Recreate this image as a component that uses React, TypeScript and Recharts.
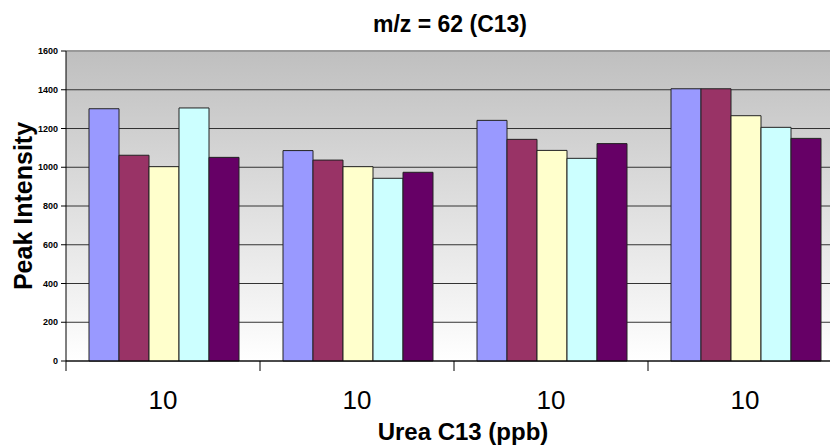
import React from "react";
import {
  BarChart,
  Bar,
  XAxis,
  YAxis,
  CartesianGrid,
  ReferenceLine
} from "recharts";

const categories = ["10", "10", "10", "10"];
const series1 = [1302, 1086, 1242, 1405];
const series2 = [1062, 1037, 1144, 1405];
const series3 = [1003, 1003, 1087, 1266];
const series4 = [1306, 943, 1046, 1206];
const series5 = [1051, 974, 1122, 1149];
const seriesColors = ["#9999FF", "#993366", "#FFFFCC", "#CCFFFF", "#660066"];
const yTicks = [0, 200, 400, 600, 800, 1000, 1200, 1400, 1600];

const data = categories.map((name, i) => ({
  name,
  s1: series1[i],
  s2: series2[i],
  s3: series3[i],
  s4: series4[i],
  s5: series5[i]
}));
const seriesKeys = ["s1", "s2", "s3", "s4", "s5"];

const CHART_W = 860;
const CHART_H = 447;
const Y_AXIS_W = 66;
const MARGIN = { top: 51, right: 18, bottom: 0, left: 0 };
const PLOT_W = CHART_W - MARGIN.left - MARGIN.right - Y_AXIS_W;
const BAND = PLOT_W / categories.length;
const FONT = "'Liberation Sans', Arial, sans-serif";

function XTick(props: any) {
  const { x, y, payload } = props;
  return (
    <g>
      <line x1={x - BAND / 2} x2={x - BAND / 2} y1={y - 8} y2={y + 2} stroke="#000" />
      <text x={x} y={y + 40} textAnchor="middle" fontFamily={FONT} fontSize={26} fill="#000">
        {payload.value}
      </text>
    </g>
  );
}

export default function App() {
  return (
    <div
      style={{
        position: "absolute",
        left: 0,
        top: 0,
        width: 830,
        height: 447,
        overflow: "hidden",
        background: "#fff",
        fontFamily: FONT
      }}
    >
      <svg width={0} height={0} style={{ position: "absolute" }}>
        <defs>
          <linearGradient id="plotBg" x1="0" y1="0" x2="0" y2="1">
            <stop offset="0%" stopColor="#bfbfbf" />
            <stop offset="100%" stopColor="#ffffff" />
          </linearGradient>
        </defs>
      </svg>
      <div
        style={{
          position: "absolute",
          left: 0,
          width: 900,
          top: 13,
          textAlign: "center",
          fontSize: 23,
          lineHeight: 1,
          fontWeight: "bold",
          color: "#000",
          zIndex: 1
        }}
      >
        m/z = 62 (C13)
      </div>
      <BarChart
        width={CHART_W}
        height={CHART_H}
        data={data}
        margin={MARGIN}
        barCategoryGap={23}
        barGap={0}
      >
        <CartesianGrid vertical={false} stroke="#333" fill="url(#plotBg)" fillOpacity={1} />
        <ReferenceLine y={1600} stroke="#999" strokeWidth={2} />
        <XAxis
          dataKey="name"
          height={86}
          tickLine={false}
          tickSize={8}
          tickMargin={0}
          axisLine={{ stroke: "#000" }}
          tick={<XTick />}
          interval={0}
          label={{
            content: (p: any) => {
              const vb = p.viewBox;
              return (
                <text
                  x={vb.x + vb.width / 2 + 9}
                  y={vb.y + 79}
                  textAnchor="middle"
                  fontFamily={FONT}
                  fontSize={24}
                  fontWeight="bold"
                  fill="#000"
                >
                  Urea C13 (ppb)
                </text>
              );
            }
          }}
        />
        <YAxis
          width={Y_AXIS_W}
          domain={[0, 1600]}
          ticks={yTicks}
          interval={0}
          tickSize={5}
          tickMargin={3}
          axisLine={{ stroke: "#000" }}
          tickLine={{ stroke: "#000" }}
          tick={{ fontSize: 9, fontWeight: "bold", fill: "#000", fontFamily: FONT }}
          label={{
            content: (p: any) => {
              const vb = p.viewBox;
              const cx = 23;
              const cy = vb.y + vb.height / 2;
              return (
                <text
                  x={cx}
                  y={cy}
                  transform={`rotate(-90, ${cx}, ${cy})`}
                  textAnchor="middle"
                  dominantBaseline="central"
                  fontFamily={FONT}
                  fontSize={25}
                  fontWeight="bold"
                  fill="#000"
                >
                  Peak Intensity
                </text>
              );
            }
          }}
        />
        {seriesKeys.map((k, i) => (
          <Bar
            key={k}
            dataKey={k}
            fill={seriesColors[i]}
            stroke="#222"
            strokeWidth={1}
            isAnimationActive={false}
          />
        ))}
      </BarChart>
    </div>
  );
}
